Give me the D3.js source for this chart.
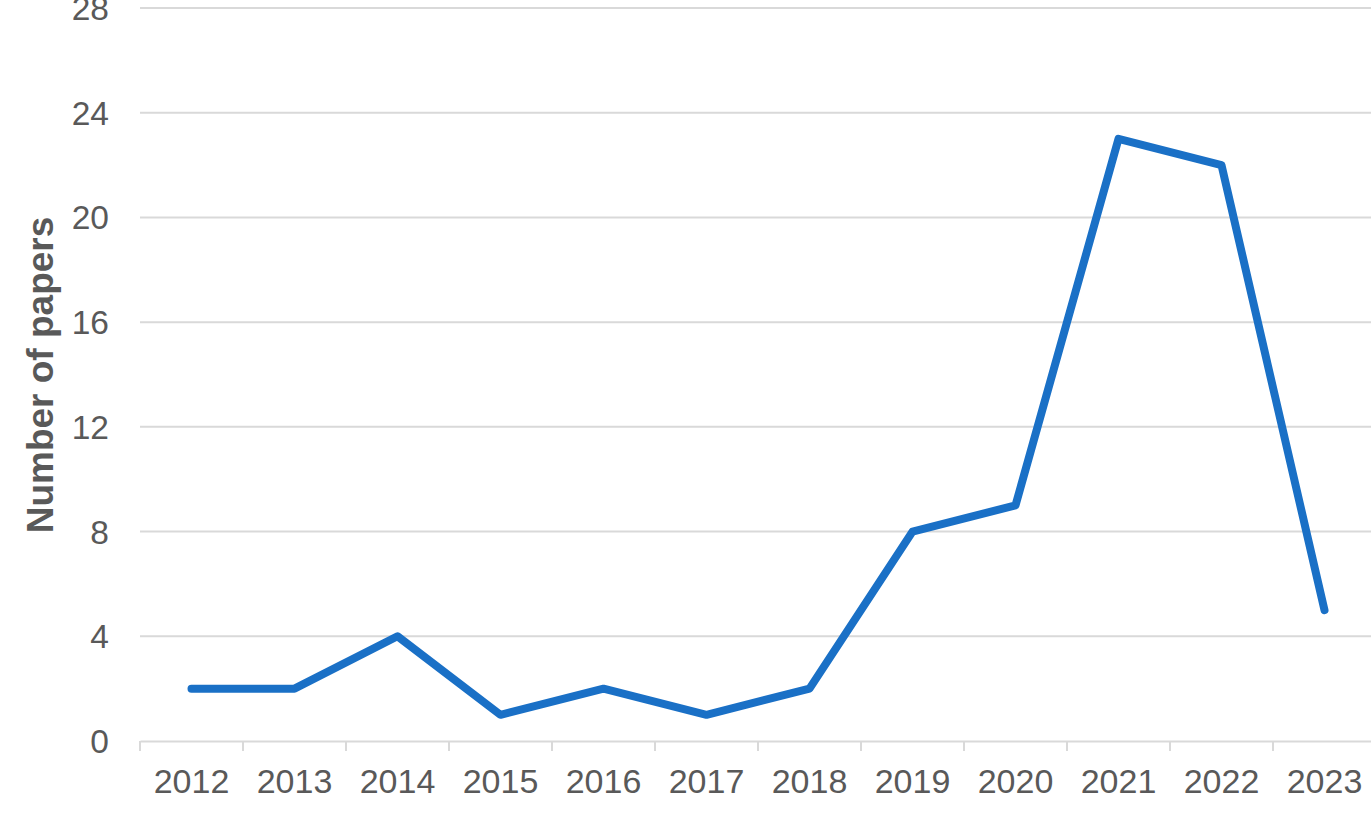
<!DOCTYPE html>
<html><head><meta charset="utf-8">
<script src="https://cdn.jsdelivr.net/npm/d3@7"></script>
<style>html,body{margin:0;padding:0;background:#fff;overflow:hidden}</style>
</head><body>
<svg id="chart" width="1371" height="826"></svg>
<script>
const years = ["2012","2013","2014","2015","2016","2017","2018","2019","2020","2021","2022","2023"];
const papers = [2,2,4,1,2,1,2,8,9,23,22,5];
const yTicks = [0,4,8,12,16,20,24,28];
const yTitle = "Number of papers";

(function(){
const svg = d3.select("#chart");
const mLeft = 140, mRight = 1376, mTop = 8, mBottom = 741;
const x = d3.scaleBand().domain(years).range([mLeft, mRight]).padding(0);
const y = d3.scaleLinear().domain([0, 28]).range([mBottom, mTop]);
const font = "'Liberation Sans', Arial, sans-serif";
const textColor = "#595959";
const gridColor = "#d9d9d9";

// gridlines
svg.append("g").selectAll("line").data(yTicks.filter(d => d !== 0)).join("line")
  .attr("x1", mLeft).attr("x2", mRight)
  .attr("y1", d => y(d)).attr("y2", d => y(d))
  .attr("stroke", gridColor).attr("stroke-width", 2);

// y labels
svg.append("g").selectAll("text").data(yTicks).join("text")
  .attr("x", 109).attr("y", d => y(d) + 12)
  .attr("text-anchor", "end")
  .attr("font-family", font).attr("font-size", 33.5).attr("fill", textColor)
  .text(d => d);

// x axis
const xAxis = d3.axisBottom(x).tickSize(0).tickFormat(d => d);
const gx = svg.append("g").attr("transform", `translate(0,${mBottom})`).call(xAxis);
gx.select(".domain").attr("stroke", gridColor).attr("stroke-width", 2);
gx.selectAll("text").attr("font-family", font).attr("font-size", 34)
  .attr("fill", textColor).attr("y", 52).attr("dy", "0");
// boundary tick marks
const bounds = years.map(d => x(d)).concat([x(years[years.length-1]) + x.bandwidth()]);
svg.append("g").selectAll("line").data(bounds).join("line")
  .attr("x1", d => d).attr("x2", d => d)
  .attr("y1", mBottom).attr("y2", mBottom + 10)
  .attr("stroke", gridColor).attr("stroke-width", 2);

// y title
svg.append("text")
  .attr("transform", `translate(53,375) rotate(-90)`)
  .attr("text-anchor", "middle")
  .attr("font-family", font).attr("font-weight", "bold").attr("font-size", 37)
  .attr("fill", textColor).text(yTitle);

// line
const line = d3.line().x((d, i) => x(years[i]) + x.bandwidth()/2).y(d => y(d));
svg.append("path").datum(papers)
  .attr("d", line).attr("fill", "none")
  .attr("stroke", "#1a70c6").attr("stroke-width", 8)
  .attr("stroke-linecap", "round").attr("stroke-linejoin", "round");
})();
</script>
</body></html>
